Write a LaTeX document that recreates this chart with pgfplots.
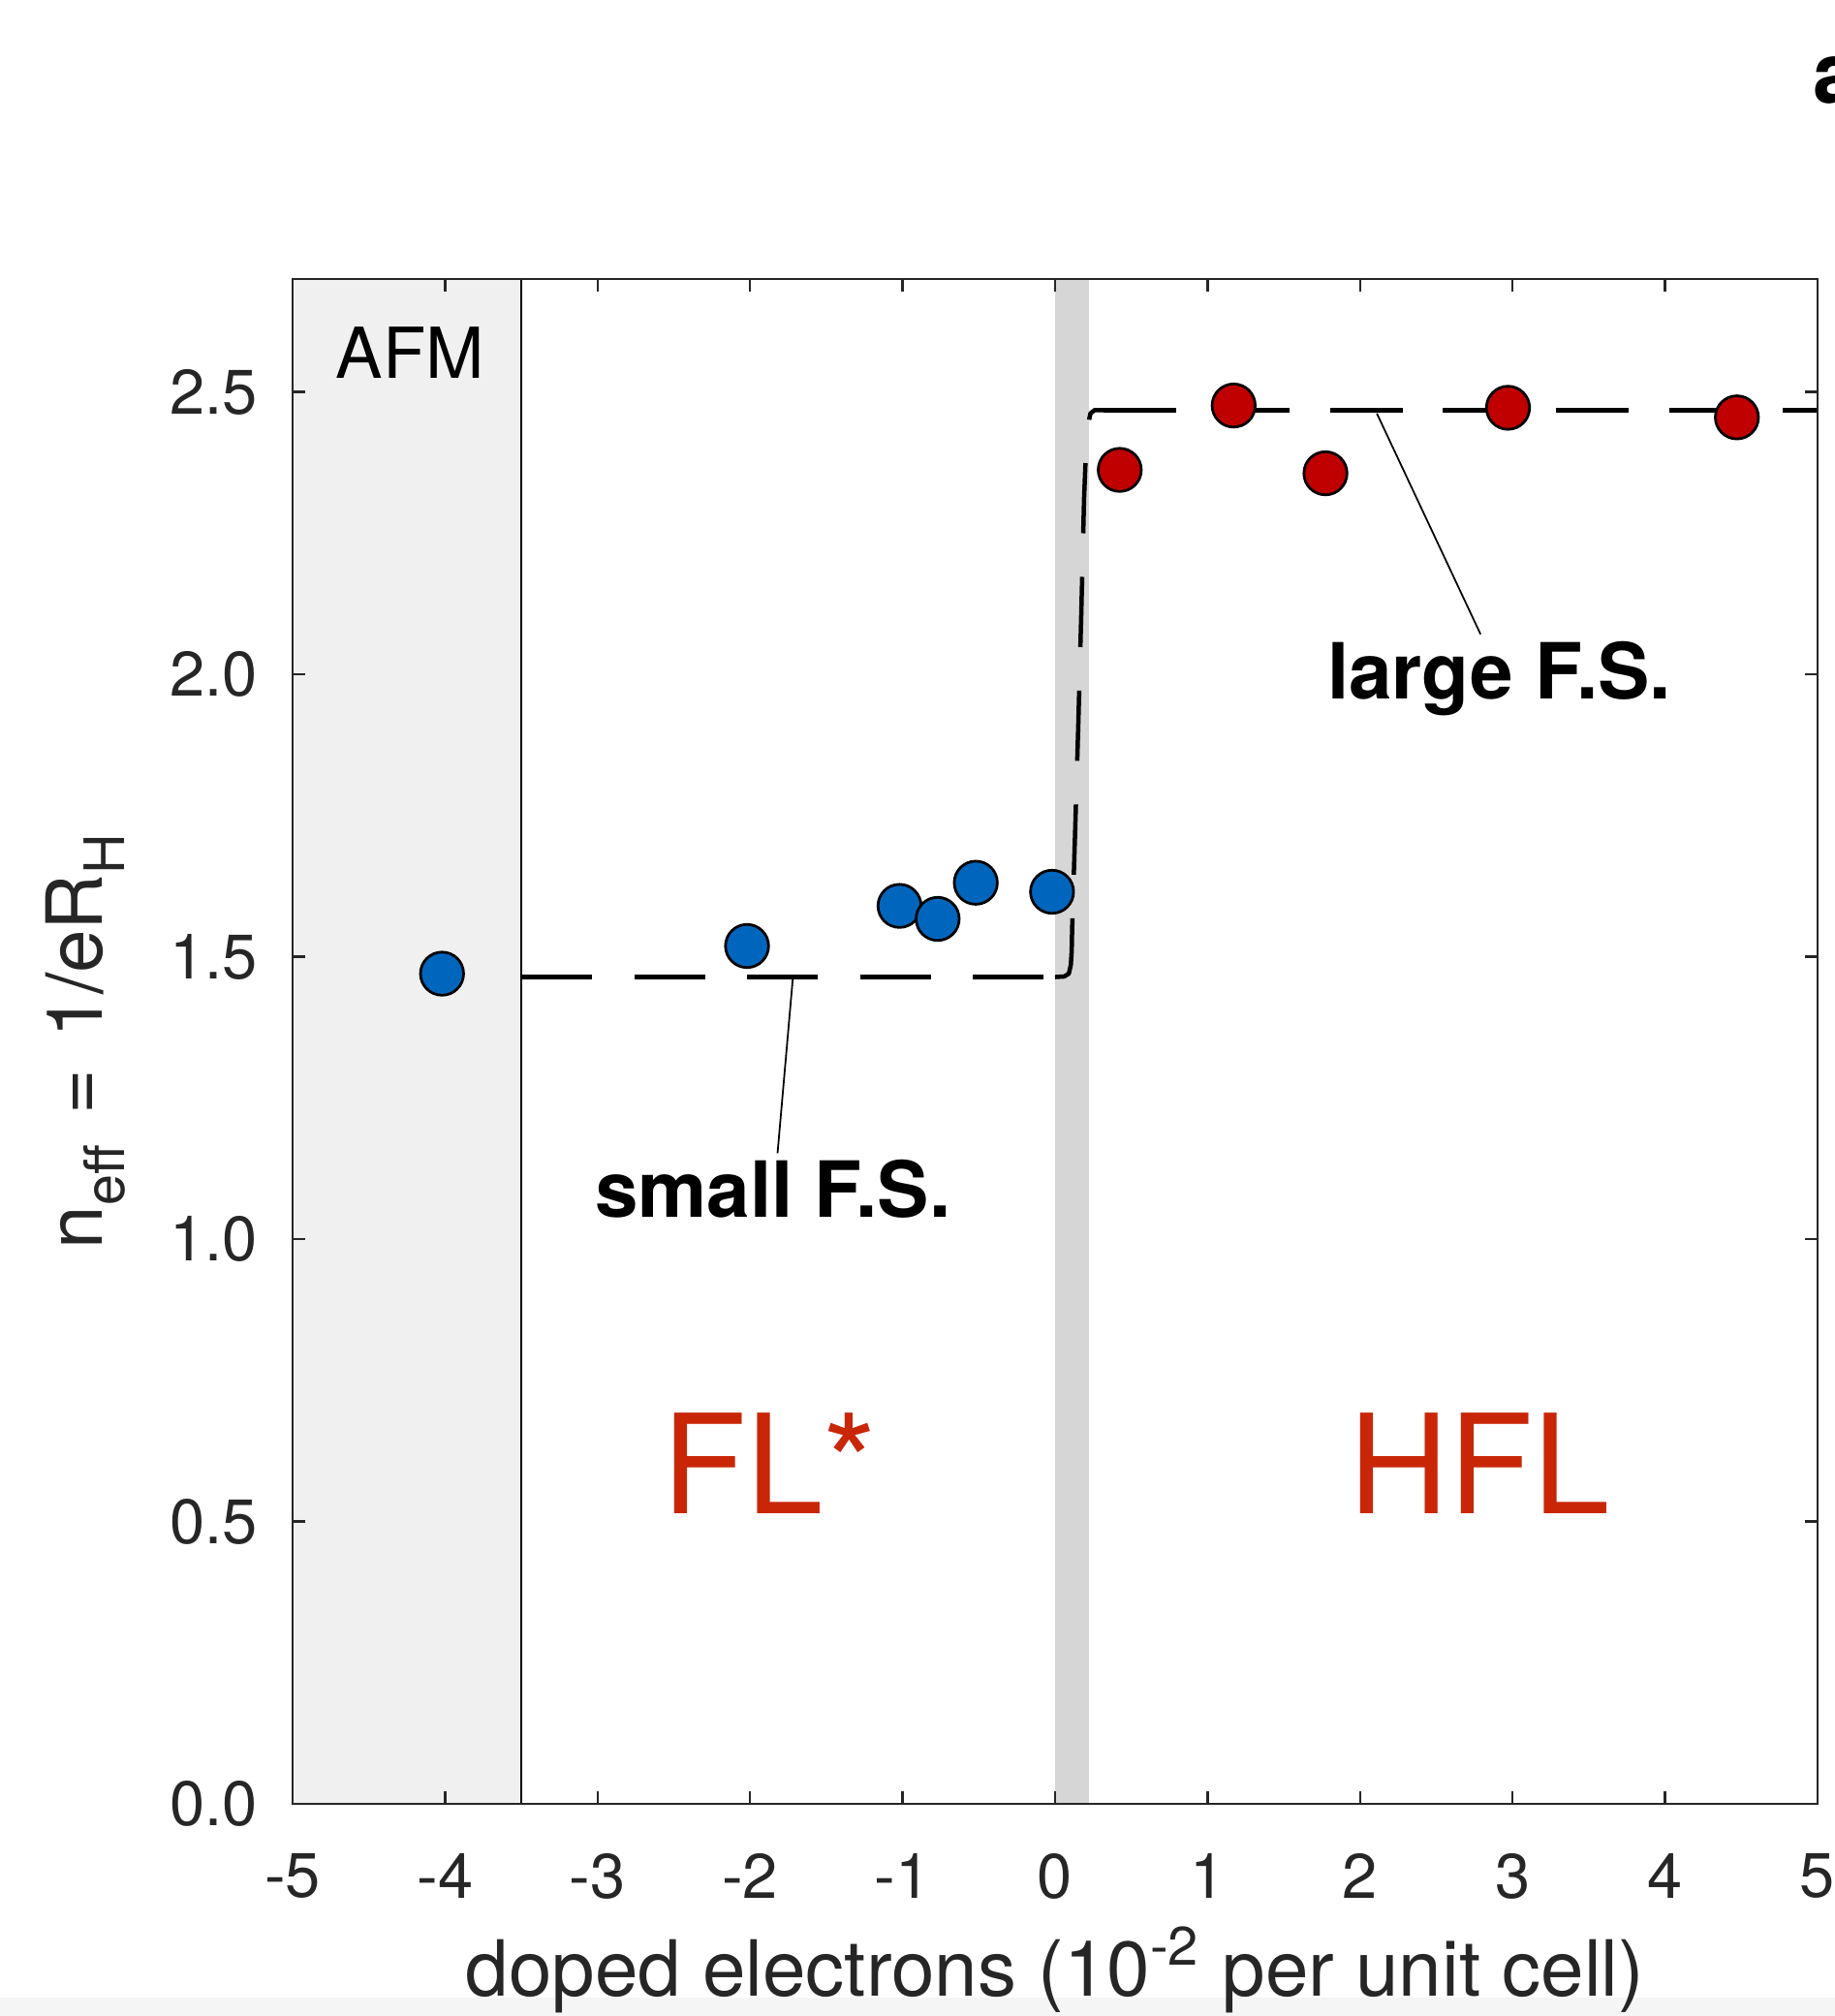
\documentclass[border=0pt]{standalone}
\usepackage{fontspec}
\setmainfont{TeX Gyre Heros}
\usepackage{pgfplots}
\pgfplotsset{compat=1.18}
\begin{document}
\begin{tikzpicture}
\definecolor{afmgray}{RGB}{240,240,240}
\definecolor{bandgray}{RGB}{214,214,214}
\definecolor{ptblue}{RGB}{0,102,189}
\definecolor{ptred}{RGB}{192,0,0}
\definecolor{phasered}{RGB}{201,38,8}
\definecolor{axgray}{RGB}{38,38,38}
% faint strip along the bottom edge of the screenshot
\fill[black!4] (-60.4pt,-43.8pt) rectangle (318.4pt,-40pt);
\begin{axis}[
  scale only axis, width=314.8pt, height=314.8pt,
  xmin=-5, xmax=5, ymin=0, ymax=2.7,
  xtick={-5,-4,-3,-2,-1,0,1,2,3,4,5},
  xticklabels={-5,-4,-3,-2,-1,0,1,2,3,4,5},
  ytick={0,0.5,1,1.5,2,2.5},
  yticklabels={0.0,0.5,1.0,1.5,2.0,2.5},
  tick align=inside, major tick length=2.6pt,
  axis line style={axgray, line width=0.5pt},
  tick style={axgray, line width=0.5pt},
  tick label style={font=\fontsize{13}{15}\selectfont, text=axgray},
  xticklabel style={anchor=north, inner sep=0pt, yshift=-10pt},
  yticklabel style={anchor=east, inner sep=0pt, xshift=-7pt},
  label style={font=\fontsize{16}{19}\selectfont, text=axgray},
  xlabel={doped electrons (10\textsuperscript{-2} per unit cell)},
  xlabel style={at={(axis description cs:0.5,0)}, anchor=base, yshift=-39.6pt},
  ylabel={n\raisebox{-4.5pt}{\fontsize{11.5}{13}\selectfont eff}\hspace{0.4em}=\hspace{0.4em}1/eR\raisebox{-4.5pt}{\fontsize{11.5}{13}\selectfont H}},
  ylabel style={at={([xshift=-39.2pt]axis description cs:0,0.5)}, anchor=base},
  axis on top,
]
% phase regions
\addplot[fill=afmgray, draw=none] coordinates {(-5,2.7) (-3.5,2.7)} \closedcycle;
\addplot[fill=bandgray, draw=none] coordinates {(0,2.7) (0.22,2.7)} \closedcycle;
\addplot[black, line width=0.4pt] coordinates {(-3.5,0) (-3.5,2.7)};

% small F.S. level, step, large F.S. level (dash pattern restarts on each piece)
\addplot[black, line width=0.9pt, dash pattern=on 14.6pt off 8.7pt] coordinates {
  (-3.5,1.464) (0.0,1.464)};
\addplot[black, line width=0.9pt, dash pattern=on 14.5pt off 9pt, line join=round] coordinates {
  (0.0,1.464) (0.06,1.465) (0.09,1.470) (0.103,1.485) (0.109,1.51) (0.112,1.55)
  (0.13,1.708) (0.152,1.908) (0.172,2.109) (0.19,2.31) (0.203,2.40) (0.215,2.44)
  (0.232,2.462) (0.26,2.468) (0.318,2.468)};
\addplot[black, line width=0.9pt, dash pattern=on 15pt off 8.35pt] coordinates {
  (0.318,2.468) (5,2.468)};

% leader lines
\addplot[black, line width=0.35pt] coordinates {(-1.72,1.461) (-1.82,1.152)};
\addplot[black, line width=0.35pt] coordinates {(2.11,2.462) (2.79,2.071)};

% measured n_eff
\addplot[only marks, mark=*, mark size=4.45pt,
  mark options={fill=ptblue, draw=black, line width=0.55pt}] coordinates {
  (-4.02,1.470) (-2.02,1.519) (-1.02,1.590) (-0.77,1.567) (-0.52,1.631) (-0.02,1.615)};
\addplot[only marks, mark=*, mark size=4.45pt,
  mark options={fill=ptred, draw=black, line width=0.55pt}] coordinates {
  (0.424,2.362) (1.171,2.476) (1.773,2.356) (2.970,2.472) (4.471,2.455)};

\node[anchor=base, font=\fontsize{14.5}{17}\selectfont] at (axis cs:-4.23,2.525) {AFM};
\node[anchor=base, font=\fontsize{16}{19}\selectfont\bfseries] at (axis cs:-1.85,1.038) {small F.S.};
\node[anchor=base, font=\fontsize{16}{19}\selectfont\bfseries] at (axis cs:2.913,1.957) {large F.S.};
\node[anchor=base, font=\fontsize{28.5}{34}\selectfont, text=phasered] at (axis cs:-1.872,0.513) {FL*};
\node[anchor=base, font=\fontsize{28.5}{34}\selectfont, text=phasered] at (axis cs:2.783,0.513) {HFL};
\end{axis}
\node[anchor=base west, inner sep=0pt, font=\fontsize{17.5}{21}\selectfont\bfseries] at (313.8pt,351.2pt) {a};
\pgfresetboundingbox
\path[use as bounding box] (-60.4pt,-43.8pt) rectangle (318.4pt,372.4pt);
\end{tikzpicture}
\end{document}
